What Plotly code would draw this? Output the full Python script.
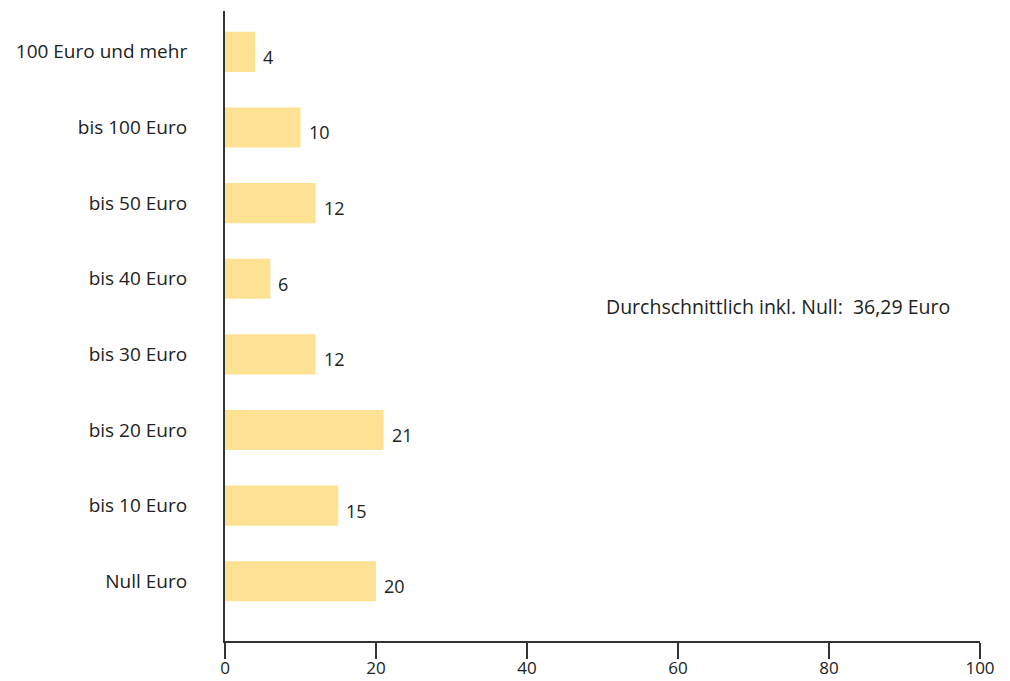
import plotly.graph_objects as go

categories = ["Null Euro", "bis 10 Euro", "bis 20 Euro", "bis 30 Euro",
              "bis 40 Euro", "bis 50 Euro", "bis 100 Euro", "100 Euro und mehr"]
values = [20, 15, 21, 12, 6, 12, 10, 4]
x_ticks = [0, 20, 40, 60, 80, 100]
note_text = "Durchschnittlich inkl. Null:  36,29 Euro"

FONT = "Open Sans"
TXT = "#222222"

fig = go.Figure()
fig.add_trace(go.Bar(
    y=list(range(len(categories))), x=values, orientation="h",
    marker=dict(color="#FDE293", line=dict(width=0)),
    width=0.53, hoverinfo="skip",
))

for i, v in enumerate(values):
    fig.add_annotation(x=v, y=i, text=str(v), showarrow=False,
                       xanchor="left", yanchor="middle", xshift=6, yshift=-5,
                       font=dict(family=FONT, size=18, color=TXT))

fig.add_annotation(x=73.3, y=3.63, text=note_text, showarrow=False,
                   xanchor="center", yanchor="middle",
                   font=dict(family=FONT, size=19.5, color=TXT))

fig.update_layout(
    width=1010, height=681,
    margin=dict(l=225, r=30, t=11, b=40, autoexpand=False),
    plot_bgcolor="white", paper_bgcolor="white",
    showlegend=False,
    font=dict(family=FONT, size=19, color=TXT),
    xaxis=dict(range=[0, 100], tickvals=x_ticks, ticktext=[str(t) for t in x_ticks],
               showgrid=False, zeroline=False, showline=True, linecolor="#333333",
               linewidth=2, ticks="outside", ticklen=16, tickwidth=2, tickcolor="#333333",
               automargin=False, ticklabelstandoff=-5,
               tickfont=dict(family=FONT, size=17, color=TXT)),
    yaxis=dict(range=[-0.79, 7.54], tickvals=list(range(len(categories))),
               ticktext=categories, showgrid=False, zeroline=False,
               showline=True, linecolor="#333333", linewidth=2,
               ticks="", ticklabelstandoff=32, automargin=False,
               tickfont=dict(family=FONT, size=19, color=TXT)),
)

fig.add_shape(type="line", xref="x", yref="paper", x0=0, x1=0, y0=0, y1=-0.028,
              line=dict(color="#333333", width=2))

fig.write_html("out.html", config={"displayModeBar": False},
               post_script="document.body.style.margin='0';document.body.style.overflow='hidden';")
